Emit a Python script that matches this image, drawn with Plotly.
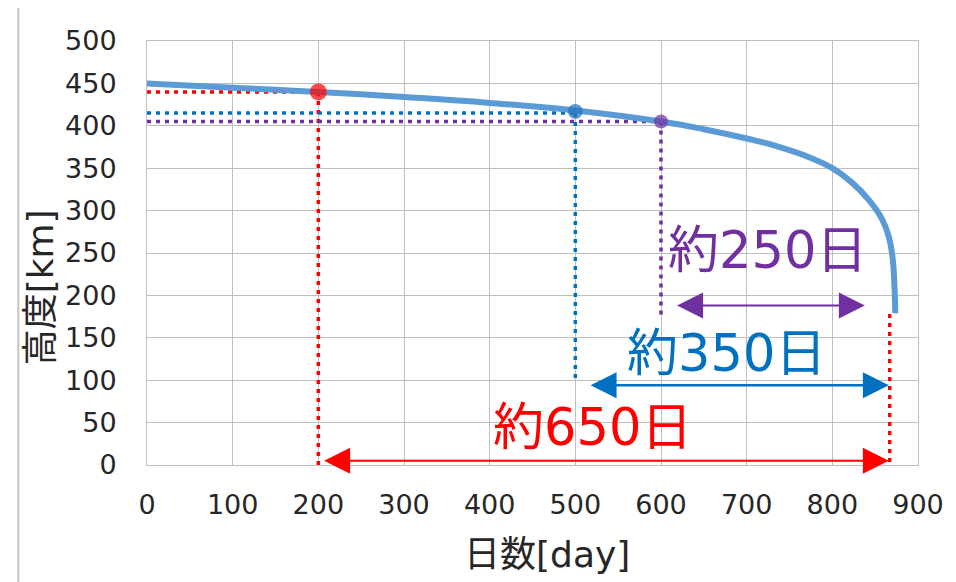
import plotly.graph_objects as go

# ---- data ----
days = [0, 100, 200, 300, 400, 500, 600, 650, 700, 735, 773, 800, 823, 843, 858, 866, 870.5, 872.5, 873.5]
altitude = [450, 445, 440, 434, 427, 418, 405, 396, 385, 376, 363, 350, 333, 312, 290, 269, 243, 211, 179]

mark_days = [200, 500, 600]
mark_alt = [440, 417, 405]
guide_alt = [440, 415, 405]
guide_bottom = [0, 100, 176]
end_day = 867
end_alt = 178

arrow_start = [617, 516, 205]
arrow_end = [838, 866, 866]
arrow_y = [188, 94, 5]
labels = ["約250日", "約350日", "約650日"]

x_ticks = [0, 100, 200, 300, 400, 500, 600, 700, 800, 900]
y_ticks = [0, 50, 100, 150, 200, 250, 300, 350, 400, 450, 500]
x_title = "日数[day]"
y_title = "高度[km]"

guide_colors = ["#FF0000", "#0070C0", "#7030A0"]
mark_colors = ["#FF0000", "#1F72B8", "#7030A0"]
mark_sizes = [17, 15, 14]
arrow_colors = ["#7030A0", "#0070C0", "#FF0000"]
arrow_widths = [2, 2.5, 2]
FONT = "DejaVu Sans, Noto Sans CJK JP, sans-serif"
DOT = "4px,5px"

fig = go.Figure()

# guide dotted lines (horizontal then vertical)
for d, ga, gb, c in zip(mark_days, guide_alt, guide_bottom, guide_colors):
    fig.add_trace(go.Scatter(x=[0, d], y=[ga, ga], mode="lines",
                             line=dict(color=c, width=3.5, dash=DOT),
                             hoverinfo="skip", showlegend=False))
    fig.add_trace(go.Scatter(x=[d, d], y=[ga, gb], mode="lines",
                             line=dict(color=c, width=3.5, dash=DOT),
                             hoverinfo="skip", showlegend=False))
# right red dotted line
fig.add_trace(go.Scatter(x=[end_day, end_day], y=[end_alt, 0], mode="lines",
                         line=dict(color="#FF0000", width=3.5, dash=DOT),
                         hoverinfo="skip", showlegend=False))

# main curve
fig.add_trace(go.Scatter(x=days, y=altitude, mode="lines",
                         line=dict(color="#5B9BD5", width=6, shape="spline", smoothing=1.3),
                         showlegend=False))

# markers
fig.add_trace(go.Scatter(x=mark_days, y=mark_alt, mode="markers",
                         marker=dict(color=mark_colors, size=mark_sizes, line=dict(width=0)),
                         showlegend=False))

annotations = []
for xs, xe, ya, c, w in zip(arrow_start, arrow_end, arrow_y, arrow_colors, arrow_widths):
    annotations.append(dict(x=xe, y=ya, ax=xs, ay=ya, xref="x", yref="y", axref="x", ayref="y",
                            text="", showarrow=True, arrowside="end+start",
                            arrowhead=2, startarrowhead=2, arrowsize=2.6 * 2 / w,
                            startarrowsize=2.6 * 2 / w, arrowwidth=w, arrowcolor=c))
label_pos = [(724, 253), (676, 132), (520, 44)]
for t, (lx, ly), c in zip(labels, label_pos, arrow_colors):
    annotations.append(dict(x=lx, y=ly, xref="x", yref="y", text=t, showarrow=False,
                            font=dict(family=FONT, size=51, color=c),
                            xanchor="center", yanchor="middle"))
# axis titles
annotations.append(dict(x=0.519, y=-0.212, xref="paper", yref="paper", text=x_title,
                        showarrow=False, xanchor="center", yanchor="middle",
                        font=dict(family=FONT, size=36, color="#262626")))
annotations.append(dict(x=-0.1382, y=0.42, xref="paper", yref="paper", text=y_title,
                        showarrow=False, xanchor="center", yanchor="middle", textangle=-90,
                        font=dict(family=FONT, size=36, color="#262626")))

fig.update_layout(
    width=948, height=574,
    margin=dict(l=139, r=34, t=33, b=117),
    paper_bgcolor="white", plot_bgcolor="white",
    font=dict(family=FONT, color="#262626"),
    annotations=annotations,
    shapes=[dict(type="line", xref="paper", yref="paper", x0=-0.1669, x1=-0.1669,
                 y0=-0.4, y1=1.2, line=dict(color="#C4C4C4", width=2))],
    xaxis=dict(range=[0, 900], tickvals=x_ticks, showgrid=True, gridcolor="#BFBFBF",
               gridwidth=1, zeroline=False, showline=True, linecolor="#BFBFBF",
               mirror=True, ticks="", tickfont=dict(size=27, color="#262626"),
               ticklabelstandoff=16),
    yaxis=dict(range=[0, 500], tickvals=y_ticks, showgrid=True, gridcolor="#BFBFBF",
               gridwidth=1, zeroline=False, showline=True, linecolor="#BFBFBF",
               mirror=True, ticks="", tickfont=dict(size=27, color="#262626"),
               ticklabelstandoff=24),
)

fig.write_html("out.html")
